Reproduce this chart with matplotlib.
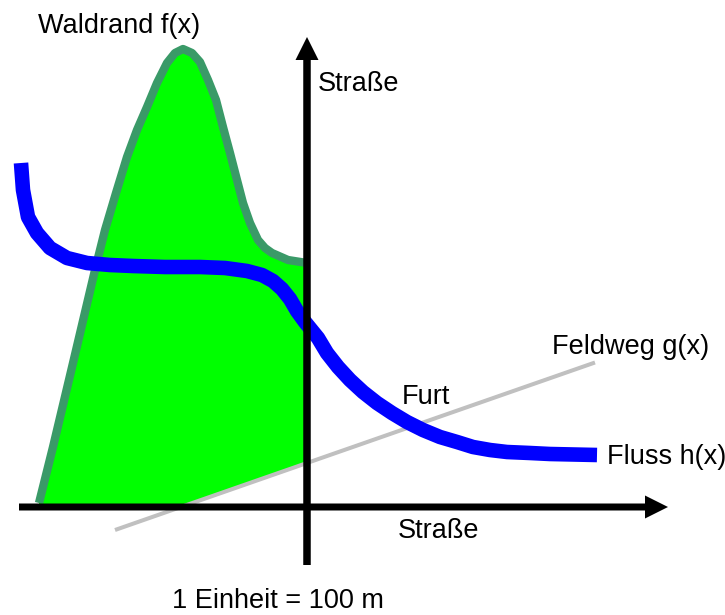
import numpy as np
import matplotlib.pyplot as plt

plt.rcParams['font.family'] = ['Liberation Sans', 'DejaVu Sans']

# 1 unit = 100 m, origin where the two roads cross
# Waldrand f(x)
f_x = [-5.36, -5.08, -4.68, -4.24, -4.04, -3.82, -3.60, -3.40, -3.20, -3.00,
       -2.80, -2.64, -2.48, -2.30, -2.14, -1.98, -1.82, -1.68, -1.54, -1.40,
       -1.28, -1.14, -0.98, -0.84, -0.70, -0.38, 0.0]
f_y = [0.08, 1.20, 2.88, 4.74, 5.54, 6.28, 7.00, 7.54, 8.00, 8.48,
       8.88, 9.08, 9.16, 9.08, 8.90, 8.54, 8.14, 7.60, 7.08, 6.54,
       6.08, 5.68, 5.34, 5.18, 5.08, 4.94, 4.88]

# Fluss h(x)
h_x = [-5.72, -5.68, -5.58, -5.40, -5.14, -4.80, -4.40, -3.94, -3.48, -2.84,
       -2.14, -1.64, -1.20, -0.90, -0.68, -0.50, -0.34, -0.20, -0.04, 0.22,
       0.40, 0.62, 0.86, 1.12, 1.40, 1.70, 2.00, 2.32, 2.66, 3.00,
       3.32, 3.66, 4.00, 4.46, 4.86, 5.80]
h_y = [6.88, 6.34, 5.80, 5.48, 5.18, 4.98, 4.88, 4.84, 4.82, 4.80,
       4.80, 4.78, 4.72, 4.64, 4.52, 4.36, 4.16, 3.92, 3.70, 3.38,
       3.08, 2.80, 2.54, 2.30, 2.08, 1.88, 1.70, 1.54, 1.40, 1.30,
       1.20, 1.14, 1.10, 1.08, 1.06, 1.04]

# Feldweg g(x), straight line
g_x = [-3.84, 5.76]
g_y = [-0.46, 2.89]

# road axes
x_road = [-5.76, 7.22]
y_road = [-1.16, 9.40]

fig = plt.figure(figsize=(7.25, 6.15), dpi=100)
ax = fig.add_axes([0, 0, 1, 1])
ax.set_xlim(-6.14, 8.36)
ax.set_ylim(-2.16, 10.14)
ax.axis('off')

# forest area: under f, above x-axis and g, left of y-axis
slope = (g_y[1] - g_y[0]) / (g_x[1] - g_x[0])
g0 = g_y[0] - slope * g_x[0]
g_root = -g0 / slope
poly_x = f_x + [0.0, g_root, f_x[0]]
poly_y = f_y + [g0, 0.0, 0.0]
ax.fill(poly_x, poly_y, color='#00ff00', lw=0, zorder=1)
ax.plot(f_x, f_y, color='#3a9a68', lw=6, solid_joinstyle='round',
        solid_capstyle='butt', zorder=2)

ax.plot(g_x, g_y, color='#c0c0c0', lw=2.9, solid_capstyle='butt', zorder=3)
ax.plot(h_x, h_y, color='#0000ff', lw=10.5, solid_joinstyle='round',
        solid_capstyle='butt', zorder=4)

ax.arrow(x_road[0], 0, x_road[1] - x_road[0], 0, width=0.14, head_width=0.46,
         head_length=0.46, length_includes_head=True, color='black', lw=0, zorder=5)
ax.arrow(0, y_road[0], 0, y_road[1] - y_road[0], width=0.15, head_width=0.46,
         head_length=0.46, length_includes_head=True, color='black', lw=0, zorder=5)

fs = 19.5
ax.text(-5.38, 9.62, 'Waldrand f(x)', fontsize=fs, va='center', ha='left')
ax.text(0.22, 8.46, 'Straße', fontsize=fs, va='center', ha='left')
ax.text(4.90, 3.20, 'Feldweg g(x)', fontsize=fs, va='center', ha='left')
ax.text(1.90, 2.20, 'Furt', fontsize=fs, va='center', ha='left')
ax.text(6.00, 1.00, 'Fluss h(x)', fontsize=fs, va='center', ha='left')
ax.text(1.82, -0.48, 'Straße', fontsize=fs, va='center', ha='left')
ax.text(-2.70, -1.88, '1 Einheit = 100 m', fontsize=fs, va='center', ha='left')

plt.savefig('out.png', dpi=100)
